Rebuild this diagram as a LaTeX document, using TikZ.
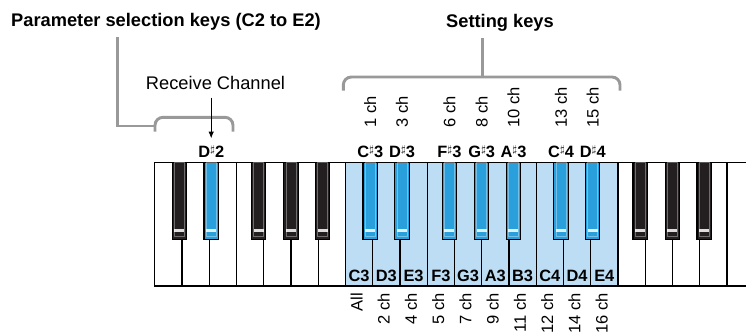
\documentclass[tikz,border=0pt]{standalone}
\usepackage{fontspec}
\setmainfont{Liberation Sans}
\usetikzlibrary{arrows.meta}

\definecolor{keyblack}{RGB}{35,31,32}
\definecolor{keyblue}{RGB}{41,160,220}
\definecolor{keylight}{RGB}{189,221,244}
\definecolor{bracketgray}{RGB}{153,153,153}

\newcommand{\shp}{\raisebox{3.6pt}{\scalebox{0.8}[0.62]{$\sharp$}}}

\tikzset{
  whitekey/.style={draw=black, line width=0.9pt, fill=white},
  litkey/.style={whitekey, fill=keylight},
  blackkey/.style={draw=black, line width=0.9pt},
  keyedge/.style={draw=white, draw opacity=0.35, line width=0.6pt},
  bracket/.style={draw=bracketgray, line width=2.2pt, rounded corners=6pt},
  headlbl/.style={font=\fontsize{13.7}{16}\selectfont\bfseries, inner sep=0pt, anchor=base},
  notelbl/.style={font=\fontsize{13.7}{16}\selectfont, inner sep=0pt, anchor=base},
  keylbl/.style={font=\fontsize{12.3}{14}\selectfont\bfseries, inner sep=0pt, anchor=base},
  chlbl/.style={font=\fontsize{12.4}{14}\selectfont, inner sep=0pt, rotate=90},
}

\begin{document}
\begin{tikzpicture}[x=0.75pt, y=-0.75pt]
    \useasboundingbox (0,0) rectangle (746,332);

    \begin{scope}
    \clip (0,0) rectangle (746,332);
    \foreach \i in {0,...,21}
        \draw[whitekey] ({154.7+\i*27.25},162.7) rectangle ++(27.25,123.3);
    \foreach \i in {7,...,16}
        \draw[litkey] ({154.7+\i*27.25},162.7) rectangle ++(27.25,123.3);

    \foreach \x/\c in {179.45/keyblack, 211.2/keyblue, 258.7/keyblack, 290.95/keyblack, 322.7/keyblack,
                       370.2/keyblue, 401.95/keyblue, 449.45/keyblue, 481.7/keyblue, 513.45/keyblue,
                       560.95/keyblue, 592.7/keyblue, 640.2/keyblack, 672.45/keyblack, 704.2/keyblack}{
        \filldraw[blackkey, fill=\c] ({\x-7.15},162.7) rectangle ({\x+7.15},239.3);
        \draw[keyedge] ({\x-5},162.7) rectangle ({\x+5},236.5);
        \fill[white, opacity=0.85] ({\x-5},228.5) rectangle ({\x+5},231.5);
    }
    \end{scope}

    \node[headlbl] (parhead) at (166,26.7) {Parameter selection keys (C2 to E2)};
    \node[headlbl] (sethead) at (500,27.3) {Setting keys};
    \node[notelbl] (recv) at (215.5,89.3) {Receive Channel};

    \node[keylbl] (ds2) at (211.2,157) {D\shp2};
    \foreach \x/\n/\t in {370.2/cs3/C\shp3, 401.95/ds3/D\shp3, 449.45/fs3/F\shp3, 481.7/gs3/G\shp3,
                          513.45/as3/A\shp3, 560.95/cs4/C\shp4, 592.7/ds4/D\shp4}
        \node[keylbl] (\n) at (\x,157) {\t};

    \foreach \x/\t [count=\k] in {370.2/1 ch, 401.95/3 ch, 449.45/6 ch, 481.7/8 ch,
                                  513.45/10 ch, 560.95/13 ch, 592.7/15 ch}
        \node[chlbl, anchor=west] (top\k) at (\x,128) {\t};

    \foreach \i/\t/\c in {7/C3/All, 8/D3/2 ch, 9/E3/4 ch, 10/F3/5 ch, 11/G3/7 ch,
                          12/A3/9 ch, 13/B3/11 ch, 14/C4/12 ch, 15/D4/14 ch, 16/E4/16 ch}{
        \node[keylbl] (w\t) at ({154.7+(\i+0.5)*27.25},281) {\t};
        \node[chlbl, anchor=east] (ch\t) at ({152.2+(\i+0.5)*27.25},293) {\c};
    }

    \coordinate (setjoin) at (482.3,77);
    \draw[bracket] (343.3,90.5) |- (620,77) -- (620,90.5);
    \draw[bracket, shorten <=5pt] (sethead.south -| setjoin) -- (setjoin);

    \coordinate (parturn) at (117.3,126);
    \coordinate (parjoin) at (155,126);
    \draw[bracket] (155,131.7) |- (233,117.3) -- (233,131.7);
    \draw[bracket, rounded corners=0pt, shorten <=5pt] (parhead.south -| parturn) -- (parturn) -- (parjoin);

    \draw[-{Latex[length=5pt, width=4pt]}, line width=0.6pt, shorten <=6pt, shorten >=5pt]
        (recv.south -| ds2) -- (ds2.north);
\end{tikzpicture}
\end{document}
